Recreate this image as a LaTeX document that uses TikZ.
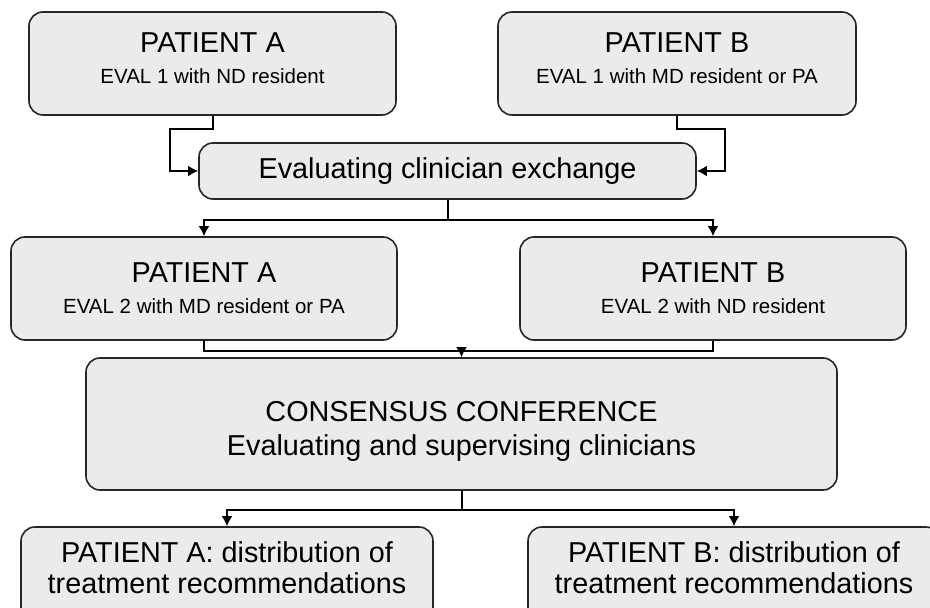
\documentclass[tikz,border=0pt]{standalone}
\usepackage{fontspec}
\setmainfont{Liberation Sans}
\usepackage{tikz}
\usetikzlibrary{arrows.meta}

\newcommand{\evaltxt}[1]{{\fontsize{20.5}{24}\selectfont #1}}
\newcommand{\dpad}[1]{\rule[-#1]{0pt}{0pt}}
\newcommand{\hpad}[1]{\rule{0pt}{#1}}

\begin{document}
\begin{tikzpicture}[x=1pt, y=-1pt,
        box/.style={draw=black!85, line width=1.6pt, fill=black!8, rounded corners=14pt,
                    align=center, inner sep=0pt, font=\fontsize{28.8}{31}\selectfont},
        lnk/.style={line width=2pt},
        arr/.style={line width=2pt, -{Latex[length=10pt,width=11pt]}}]
            \useasboundingbox (0,0) rectangle (930,608);

            \node[box, minimum width=367pt, minimum height=103pt] (pA1) at (212.5,63.5)
                {PATIENT A\\\evaltxt{EVAL 1 with ND resident}\dpad{10pt}};
            \node[box, minimum width=358pt, minimum height=103pt] (pB1) at (677,63.5)
                {PATIENT B\\\evaltxt{EVAL 1 with MD resident or PA}\dpad{10pt}};
            \node[box, minimum width=497pt, minimum height=56pt] (ex) at (447.5,171)
                {Evaluating clinician exchange};
            \node[box, minimum width=386pt, minimum height=103pt] (pA2) at (204,288.5)
                {PATIENT A\\\evaltxt{EVAL 2 with MD resident or PA}};
            \node[box, minimum width=386pt, minimum height=103pt] (pB2) at (713,288.5)
                {PATIENT B\\\evaltxt{EVAL 2 with ND resident}};
            \node[box, minimum width=751pt, minimum height=132pt] (cc) at (461.5,424)
                {\hpad{34pt}CONSENSUS CONFERENCE\\[3pt]Evaluating and supervising clinicians};
            \node[box, minimum width=412pt, minimum height=103pt] (rA) at (227,578.5)
                {PATIENT A: distribution of\\treatment recommendations\dpad{22pt}};
            \node[box, minimum width=412pt, minimum height=103pt] (rB) at (734,578.5)
                {PATIENT B: distribution of\\treatment recommendations\dpad{22pt}};

            % first evaluations to the exchange
            \draw[arr] (pA1.south) -- ++(0,13) -| ([xshift=-28pt]ex.west) -- (ex.west);
            \draw[arr] (pB1.south) -- ++(0,13) -| ([xshift=28pt]ex.east) -- (ex.east);

            % exchange to second evaluations
            \draw[lnk] (ex.south) -- ++(0,20) coordinate (s1);
            \draw[arr] (s1) -| (pA2.north);
            \draw[arr] (s1) -| (pB2.north);

            % second evaluations to the conference
            \draw[lnk] (pA2.south) -- ++(0,10) coordinate (s2) -| (pB2.south);
            \draw[arr] (s2 -| cc.north) -- (cc.north);

            % conference to the results
            \draw[lnk] (cc.south) -- ++(0,19) coordinate (s3);
            \draw[arr] (s3) -| (rA.north);
            \draw[arr] (s3) -| (rB.north);
        \end{tikzpicture}
\end{document}
